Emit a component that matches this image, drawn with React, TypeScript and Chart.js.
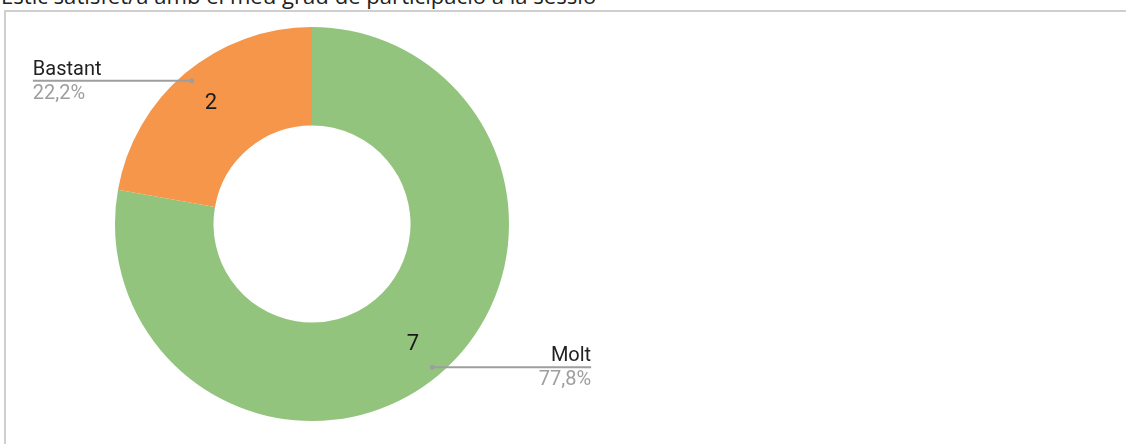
import React, { useEffect, useRef } from "react";
import { Chart, registerables } from "chart.js";

Chart.register(...registerables);

const titleText = "Estic satisfet/a amb el meu grau de participació a la sessió";
const categories = ["Molt", "Bastant"];
const values = [7, 2];
const colors = ["#93C47D", "#F6964A"];

const calloutPlugin = {
  id: "callouts",
  afterDatasetsDraw(chart: any) {
    const ctx = chart.ctx;
    const meta = chart.getDatasetMeta(0);
    const data = chart.data.datasets[0].data as number[];
    const total = data.reduce((a: number, b: number) => a + b, 0);
    meta.data.forEach((arc: any, i: number) => {
      const { x, y, startAngle, endAngle, innerRadius, outerRadius } = arc.getProps(
        ["x", "y", "startAngle", "endAngle", "innerRadius", "outerRadius"],
        true
      );
      const mid = (startAngle + endAngle) / 2;
      const cos = Math.cos(mid);
      const sin = Math.sin(mid);
      // value label
      const rv = innerRadius + (outerRadius - innerRadius) * 0.595;
      ctx.save();
      ctx.font = "22px Roboto";
      ctx.fillStyle = "#1a1a1a";
      ctx.textAlign = "center";
      ctx.textBaseline = "middle";
      ctx.fillText(String(data[i]), x + cos * rv, y + sin * rv);
      // callout
      const rd = outerRadius * 0.95;
      const dx = x + cos * rd;
      const dy = y + sin * rd;
      const right = cos >= 0;
      const ex = right ? x + outerRadius * 1.417 : x - outerRadius * 1.417;
      ctx.strokeStyle = "#9e9e9e";
      ctx.lineWidth = 2;
      ctx.beginPath();
      ctx.moveTo(dx, dy);
      ctx.lineTo(ex, dy);
      ctx.stroke();
      ctx.fillStyle = "#9e9e9e";
      ctx.beginPath();
      ctx.arc(dx, dy, 2.5, 0, Math.PI * 2);
      ctx.fill();
      ctx.textAlign = right ? "right" : "left";
      ctx.textBaseline = "alphabetic";
      ctx.font = "20px Roboto";
      ctx.fillStyle = "#222222";
      ctx.fillText(chart.data.labels[i], ex, dy - 6);
      const pct = ((data[i] / total) * 100).toFixed(1).replace(".", ",") + "%";
      ctx.fillStyle = "#9e9e9e";
      ctx.fillText(pct, ex, dy + 18);
      ctx.restore();
    });
  },
};

export default function App() {
  const ref = useRef<HTMLCanvasElement>(null);
  useEffect(() => {
    const chart = new Chart(ref.current as HTMLCanvasElement, {
      type: "doughnut",
      data: {
        labels: categories,
        datasets: [
          {
            data: values,
            backgroundColor: colors,
            borderWidth: 0,
          },
        ],
      },
      options: {
        animation: false,
        responsive: false,
        cutout: "50%",
        layout: { padding: { left: 115, right: 617, top: 27, bottom: 23 } },
        plugins: {
          legend: { display: false },
          tooltip: { enabled: false },
          title: { display: false },
        },
      },
      plugins: [calloutPlugin],
    });
    return () => chart.destroy();
  }, []);

  return (
    <div
      style={{
        position: "fixed",
        left: 0,
        top: 0,
        width: 1126,
        height: 444,
        overflow: "hidden",
        background: "#fff",
      }}
    >
      <div
        style={{
          position: "absolute",
          left: 1,
          top: -20,
          fontFamily: "'Open Sans'",
          fontSize: 22.1,
          lineHeight: "30px",
          color: "#222",
          whiteSpace: "nowrap",
        }}
      >
        {titleText}
      </div>
      <div
        style={{
          position: "absolute",
          left: 4,
          top: 10,
          width: 1200,
          height: 500,
          borderLeft: "2px solid #cfcfcf",
          borderTop: "2px solid #cfcfcf",
        }}
      />
      <canvas
        ref={ref}
        width={1126}
        height={444}
        style={{ position: "absolute", left: 0, top: 0 }}
      />
    </div>
  );
}
